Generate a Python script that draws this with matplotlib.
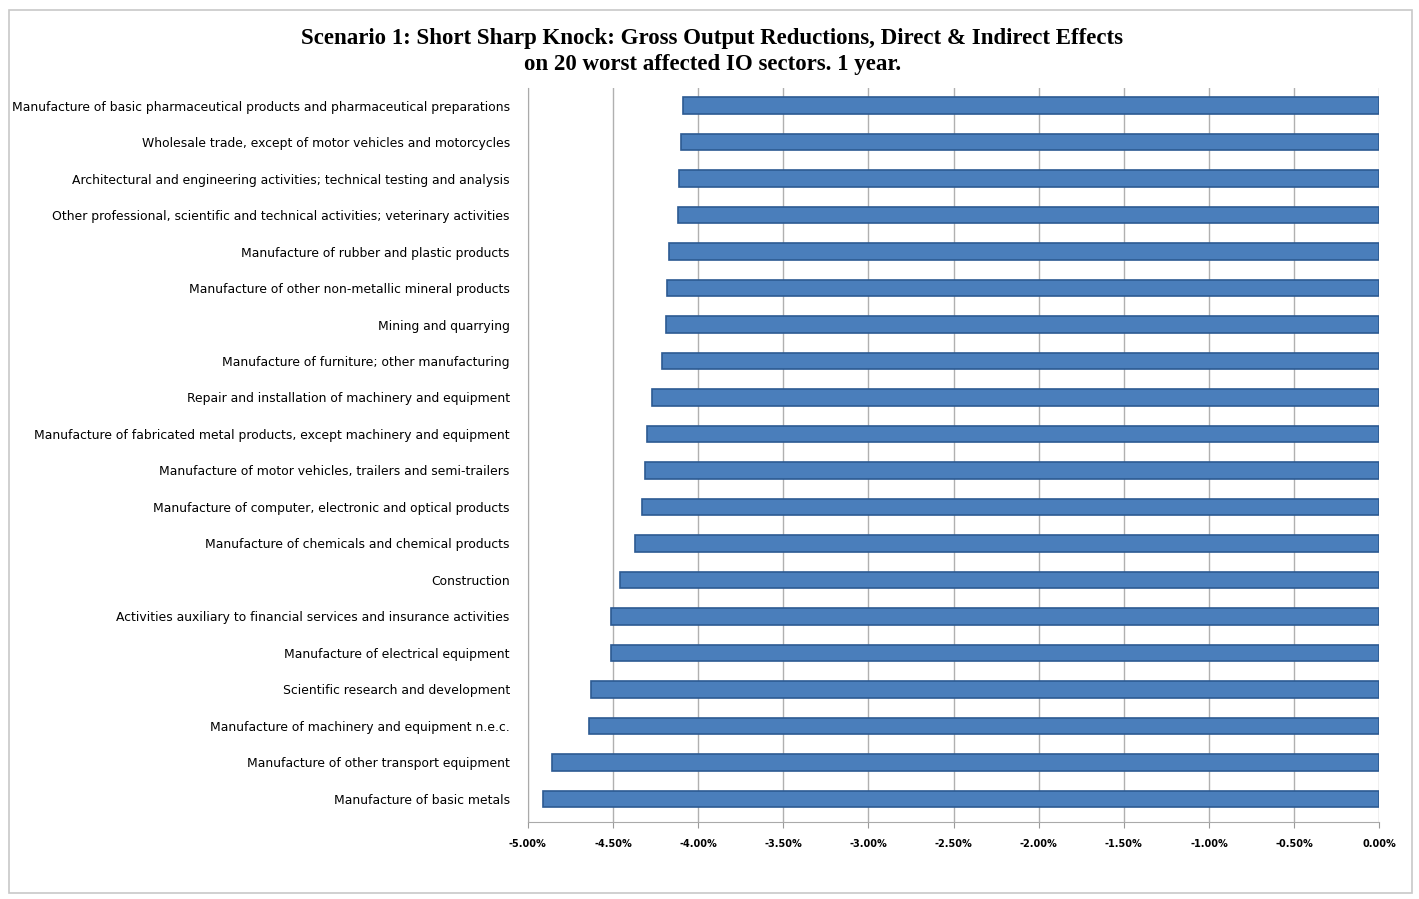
import matplotlib.pyplot as plt
from matplotlib.ticker import FuncFormatter
from matplotlib.patches import Rectangle

# sectors, top to bottom as in the chart
sectors = [
    "Manufacture of basic pharmaceutical products and pharmaceutical preparations",
    "Wholesale trade, except of motor vehicles and motorcycles",
    "Architectural and engineering activities; technical testing and analysis",
    "Other professional, scientific and technical activities; veterinary activities",
    "Manufacture of rubber and plastic products",
    "Manufacture of other non-metallic mineral products",
    "Mining and quarrying",
    "Manufacture of furniture; other manufacturing",
    "Repair and installation of machinery and equipment",
    "Manufacture of fabricated metal products, except machinery and equipment",
    "Manufacture of motor vehicles, trailers and semi-trailers",
    "Manufacture of computer, electronic and optical products",
    "Manufacture of chemicals and chemical products",
    "Construction",
    "Activities auxiliary to financial services and insurance activities",
    "Manufacture of electrical equipment",
    "Scientific research and development",
    "Manufacture of machinery and equipment n.e.c.",
    "Manufacture of other transport equipment",
    "Manufacture of basic metals",
]
# gross output change (fraction)
reduction = [
    -0.0409, -0.0410, -0.0411, -0.0412, -0.0417, -0.0418, -0.0419, -0.0421,
    -0.0427, -0.0430, -0.0431, -0.0433, -0.0437, -0.0446, -0.0451, -0.0451,
    -0.0463, -0.0464, -0.0486, -0.0491,
]
ticks = [-0.05, -0.045, -0.04, -0.035, -0.03, -0.025, -0.02, -0.015, -0.01, -0.005, 0.0]

fig = plt.figure(figsize=(14.19, 8.99), dpi=100)
ax = fig.add_axes([0.372, 0.0857, 0.600, 0.816])

pos = list(range(len(sectors)))[::-1]
ax.barh(pos, reduction, height=0.45, color="#4a7ebb", edgecolor="#2c5a92",
        linewidth=1.2, zorder=3)

ax.set_xlim(-0.05, 0.0)
ax.set_ylim(-0.63, 19.47)
ax.set_xticks(ticks)
ax.xaxis.set_major_formatter(FuncFormatter(lambda v, p: "%.2f%%" % (v * 100)))
ax.set_yticks(pos)
ax.set_yticklabels(sectors, fontsize=8.9, family="Liberation Sans Narrow",
                   color="black")
ax.tick_params(axis="y", length=0, pad=13)
ax.tick_params(axis="x", length=4, color="#999999", pad=8, labelsize=7)
for lab in ax.get_xticklabels():
    lab.set_fontweight("bold")
    lab.set_family("Liberation Sans Narrow")

ax.grid(axis="x", color="#b0b0b0", linewidth=1.0, zorder=0)
for s in ["top", "right"]:
    ax.spines[s].set_visible(False)
ax.spines["left"].set_color("#aaaaaa")
ax.spines["bottom"].set_color("#aaaaaa")

fig.text(0.502, 0.943,
         "Scenario 1: Short Sharp Knock: Gross Output Reductions, Direct & Indirect Effects\n"
         "on 20 worst affected IO sectors. 1 year.",
         ha="center", va="center", fontsize=16.5, fontweight="bold",
         family="Liberation Serif", linespacing=1.3)

# chart area frame
fig.patches.append(Rectangle((0.006, 0.007), 0.989, 0.982, transform=fig.transFigure,
                             fill=False, edgecolor="#c8c8c8", linewidth=1.2))

plt.savefig("out.png", dpi=100)
